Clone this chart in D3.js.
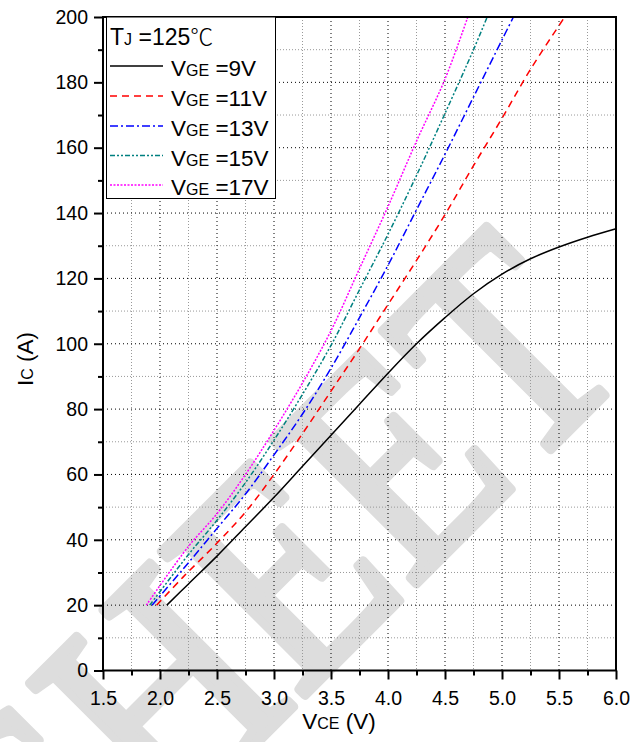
<!DOCTYPE html>
<html>
<head>
<meta charset="utf-8">
<script src="https://cdn.jsdelivr.net/npm/d3@7"></script>
<style>
  body { margin: 0; background: #fff; }
  svg { display: block; font-family: "Liberation Sans", Arial, sans-serif; }
</style>
</head>
<body>
<svg id="chart" width="644" height="742"></svg>
<script>
// output characteristic, Tj = 125C
const vge9 = [[2.06,20],[2.25,26.5],[2.5,35],[2.75,44],[3.0,53],[3.25,62.5],[3.5,72],[3.75,81.5],[4.0,91],[4.25,100],[4.5,108],[4.75,115.3],[5.0,121.3],[5.25,126],[5.5,129.6],[5.75,132.6],[6.0,135.2]];
const vge11 = [[1.97,20],[2.2,28.5],[2.5,39],[2.75,48.5],[3.0,60],[3.25,72.5],[3.5,85.5],[3.75,98.5],[4.0,112],[4.25,125.5],[4.5,139.5],[4.75,154.5],[5.0,169],[5.25,184],[5.55,200]];
const vge13 = [[1.93,20],[2.25,33],[2.5,43.5],[2.75,54],[3.0,66],[3.25,78.5],[3.5,92.5],[3.75,108],[4.0,124],[4.25,141],[4.5,158],[4.75,175.5],[5.0,193],[5.1,200]];
const vge15 = [[1.91,20],[2.25,35.5],[2.5,46],[2.75,57.5],[3.0,70.5],[3.25,84.5],[3.5,99.5],[3.75,116.5],[4.0,133.5],[4.25,151.5],[4.5,170.5],[4.75,190],[4.87,200]];
const vge17 = [[1.88,20],[2.25,38],[2.5,48],[2.75,60],[3.0,73.5],[3.25,88],[3.5,104],[3.75,123],[4.0,142],[4.25,162],[4.5,181],[4.7,200]];

const seriesNames = ["9V", "11V", "13V", "15V", "17V"];
const seriesData = [vge9, vge11, vge13, vge15, vge17];
const colors = ["#000000", "#ff0000", "#0000ff", "#008080", "#ff00ff"];
const dashes = [null, "7,5", "8,3,2,3", "5,2,2,2,2,2", "2,1.5"];

const xTicks = [1.5, 2.0, 2.5, 3.0, 3.5, 4.0, 4.5, 5.0, 5.5, 6.0];
const yTicks = [0, 20, 40, 60, 80, 100, 120, 140, 160, 180, 200];

const svg = d3.select("#chart");
const m = { left: 103, right: 616, top: 17, bottom: 670.5 };

const x = d3.scaleLinear().domain([1.5, 6.0]).range([m.left, m.right]);
const y = d3.scaleLinear().domain([0, 200]).range([m.bottom, m.top]);

// watermark behind everything
svg.append("text")
  .attr("transform", "translate(66,934) rotate(-45) scale(1,1.2)")
  .attr("font-family", "'Liberation Serif', 'DejaVu Serif', serif")
  .attr("font-size", 258)
  .attr("fill", "#dddddd")
  .attr("stroke", "#dddddd")
  .attr("stroke-width", 8)
  .attr("stroke-linejoin", "round")
  .text("SHEET");

// grid
const minorX = d3.range(1.75, 6.0, 0.5);
const minorY = d3.range(10, 200, 20);
const grid = svg.append("g");
grid.selectAll(".gxm").data(minorX).join("line")
  .attr("x1", d => x(d)).attr("x2", d => x(d))
  .attr("y1", m.top).attr("y2", m.bottom)
  .attr("stroke", "#999").attr("stroke-width", 1).attr("stroke-dasharray", "1,2");
grid.selectAll(".gym").data(minorY).join("line")
  .attr("y1", d => y(d)).attr("y2", d => y(d))
  .attr("x1", m.left).attr("x2", m.right)
  .attr("stroke", "#999").attr("stroke-width", 1).attr("stroke-dasharray", "1,2");
grid.selectAll(".gx").data(xTicks.slice(1, -1)).join("line")
  .attr("x1", d => x(d)).attr("x2", d => x(d))
  .attr("y1", m.top).attr("y2", m.bottom)
  .attr("stroke", "#000").attr("stroke-width", 1).attr("stroke-dasharray", "1,3");
grid.selectAll(".gy").data(yTicks.slice(1, -1)).join("line")
  .attr("y1", d => y(d)).attr("y2", d => y(d))
  .attr("x1", m.left).attr("x2", m.right)
  .attr("stroke", "#000").attr("stroke-width", 1).attr("stroke-dasharray", "1,3");

// curves
const line = d3.line()
  .x(d => x(d[0])).y(d => y(d[1]))
  .curve(d3.curveCatmullRom);

svg.append("g").selectAll("path").data(seriesData).join("path")
  .attr("d", line)
  .attr("fill", "none")
  .attr("stroke", (d, i) => colors[i])
  .attr("stroke-width", 1.5)
  .attr("stroke-dasharray", (d, i) => dashes[i]);

// axes
const xAxis = d3.axisBottom(x).tickValues(xTicks).tickFormat(d3.format(".1f")).tickSize(9).tickPadding(12);
const yAxis = d3.axisLeft(y).tickValues(yTicks).tickSize(9).tickPadding(6);

const gx = svg.append("g").attr("transform", `translate(0,${m.bottom})`).call(xAxis);
const gy = svg.append("g").attr("transform", `translate(${m.left},0)`).call(yAxis);

svg.append("g").attr("transform", `translate(0,${m.bottom})`)
  .call(d3.axisBottom(x).tickValues(minorX).tickSize(5).tickFormat(""))
  .call(g => g.select(".domain").remove());
svg.append("g").attr("transform", `translate(${m.left},0)`)
  .call(d3.axisLeft(y).tickValues(minorY).tickSize(5).tickFormat(""))
  .call(g => g.select(".domain").remove());

svg.selectAll(".tick line").attr("stroke-width", 2);
[gx, gy].forEach(g => {
  g.select(".domain").remove();
  g.selectAll("text").attr("font-size", 19.5).attr("fill", "#000")
    .attr("font-family", "'Liberation Sans', Arial, sans-serif");
});

// frame
svg.append("rect")
  .attr("x", m.left).attr("y", m.top)
  .attr("width", m.right - m.left).attr("height", m.bottom - m.top)
  .attr("fill", "none").attr("stroke", "#000").attr("stroke-width", 2);

// axis titles
const xl = svg.append("text").attr("x", 339).attr("y", 729)
  .attr("text-anchor", "middle").attr("font-size", 22.5);
xl.append("tspan").text("V");
xl.append("tspan").attr("font-size", 16).text("CE");
xl.append("tspan").text(" (V)");

const yl = svg.append("text")
  .attr("transform", "translate(33,359) rotate(-90)")
  .attr("text-anchor", "middle").attr("font-size", 22.5);
yl.append("tspan").text("I");
yl.append("tspan").attr("font-size", 16).text("C");
yl.append("tspan").text(" (A)");

// legend
const lg = svg.append("g");
lg.append("rect")
  .attr("x", 106.5).attr("y", m.top).attr("width", 169).attr("height", 181.5)
  .attr("fill", "#fff").attr("stroke", "#000").attr("stroke-width", 1);

const title = lg.append("text").attr("x", 110).attr("y", 45).attr("font-size", 23);
title.append("tspan").text("T");
title.append("tspan").attr("font-size", 16).text("J");
title.append("tspan").text(" =125");
title.append("tspan").attr("font-family", "'Noto Sans CJK SC', sans-serif").attr("font-weight", 300).text("\u2103");

const rowY = [66, 96, 126, 155.5, 185];
seriesNames.forEach((name, i) => {
  lg.append("line")
    .attr("x1", 110).attr("x2", 163)
    .attr("y1", rowY[i]).attr("y2", rowY[i])
    .attr("stroke", colors[i]).attr("stroke-width", 1.5)
    .attr("stroke-dasharray", dashes[i]);
  const t = lg.append("text").attr("x", 171).attr("y", rowY[i] + 10).attr("font-size", 22.5);
  t.append("tspan").text("V");
  t.append("tspan").attr("font-size", 16).text("GE");
  t.append("tspan").text(" =" + name);
});
</script>
</body>
</html>
